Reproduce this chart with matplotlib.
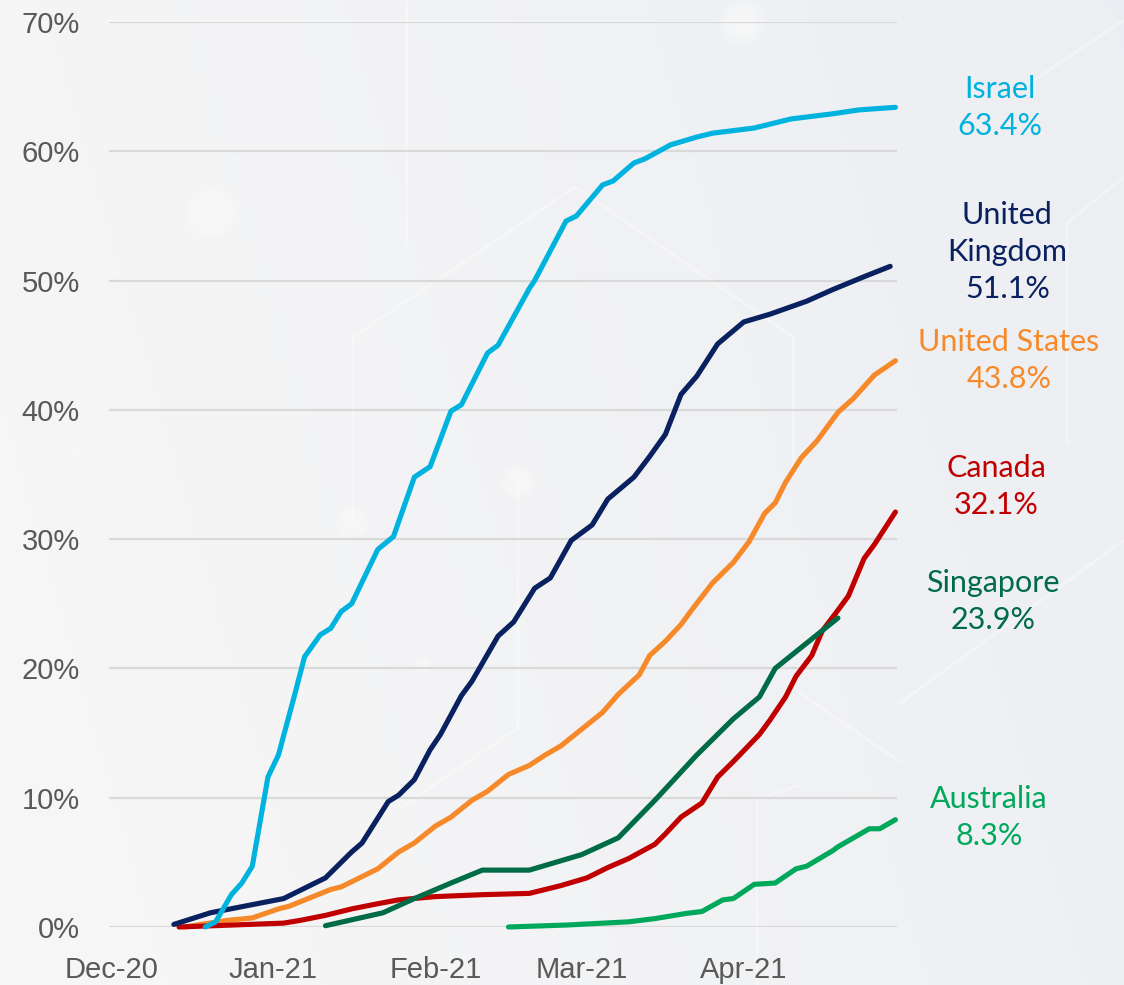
import matplotlib
matplotlib.use("Agg")
import matplotlib.pyplot as plt
import matplotlib.dates as mdates
import matplotlib.transforms as mtransforms
from matplotlib.ticker import FuncFormatter
import numpy as np
import pandas as pd

W, H, DPI = 1124, 985, 100

# ---- share of population with at least one dose (%) ----
israel_dates = ["2020-12-19", "2020-12-21", "2020-12-24", "2020-12-26", "2020-12-28",
                "2020-12-31", "2021-01-02", "2021-01-05", "2021-01-07", "2021-01-10",
                "2021-01-12", "2021-01-14", "2021-01-16", "2021-01-21", "2021-01-24",
                "2021-01-28", "2021-01-31", "2021-02-04", "2021-02-06", "2021-02-11",
                "2021-02-13", "2021-02-19", "2021-02-20", "2021-02-26", "2021-02-28",
                "2021-03-05", "2021-03-07", "2021-03-11", "2021-03-13", "2021-03-18",
                "2021-03-23", "2021-03-26", "2021-04-03", "2021-04-10", "2021-04-18",
                "2021-04-23", "2021-04-30"]
israel_pct = [0.0, 0.4, 2.5, 3.4, 4.7,
              11.6, 13.3, 17.8, 20.9, 22.6,
              23.1, 24.4, 25.0, 29.2, 30.2,
              34.8, 35.6, 39.9, 40.4, 44.4,
              45.0, 49.4, 50.0, 54.6, 55.0,
              57.4, 57.7, 59.1, 59.4, 60.5,
              61.1, 61.4, 61.8, 62.5, 62.9,
              63.2, 63.4]

uk_dates = ["2020-12-13", "2020-12-20", "2021-01-03", "2021-01-11", "2021-01-16",
            "2021-01-18", "2021-01-23", "2021-01-25", "2021-01-28", "2021-01-31",
            "2021-02-02", "2021-02-06", "2021-02-08", "2021-02-13", "2021-02-16",
            "2021-02-20", "2021-02-23", "2021-02-27", "2021-03-03", "2021-03-06",
            "2021-03-11", "2021-03-14", "2021-03-17", "2021-03-20", "2021-03-23",
            "2021-03-27", "2021-04-01", "2021-04-06", "2021-04-13", "2021-04-18",
            "2021-04-24", "2021-04-29"]
uk_pct = [0.2, 1.1, 2.2, 3.8, 5.8,
          6.5, 9.7, 10.2, 11.4, 13.7,
          14.9, 17.9, 19.0, 22.5, 23.6,
          26.2, 27.0, 29.9, 31.1, 33.1,
          34.8, 36.4, 38.1, 41.2, 42.6,
          45.1, 46.8, 47.4, 48.4, 49.3,
          50.3, 51.1]

us_dates = ["2020-12-15", "2020-12-23", "2020-12-28", "2021-01-02", "2021-01-04",
            "2021-01-12", "2021-01-14", "2021-01-21", "2021-01-25", "2021-01-28",
            "2021-02-01", "2021-02-04", "2021-02-08", "2021-02-11", "2021-02-15",
            "2021-02-19", "2021-02-22", "2021-02-25", "2021-03-01", "2021-03-05",
            "2021-03-08", "2021-03-12", "2021-03-14", "2021-03-17", "2021-03-20",
            "2021-03-22", "2021-03-26", "2021-03-30", "2021-04-02", "2021-04-05",
            "2021-04-07", "2021-04-09", "2021-04-12", "2021-04-15", "2021-04-19",
            "2021-04-22", "2021-04-26", "2021-04-30"]
us_pct = [0.0, 0.5, 0.7, 1.4, 1.6,
          2.9, 3.1, 4.5, 5.8, 6.5,
          7.8, 8.5, 9.8, 10.5, 11.8,
          12.5, 13.3, 14.0, 15.3, 16.6,
          18.0, 19.5, 21.0, 22.1, 23.4,
          24.5, 26.6, 28.2, 29.8, 32.0,
          32.8, 34.4, 36.3, 37.6, 39.8,
          40.9, 42.7, 43.8]

canada_dates = ["2020-12-14", "2020-12-24", "2021-01-03", "2021-01-06", "2021-01-11",
                "2021-01-16", "2021-01-21", "2021-01-25", "2021-02-01", "2021-02-10",
                "2021-02-19", "2021-02-25", "2021-03-02", "2021-03-06", "2021-03-10",
                "2021-03-15", "2021-03-17", "2021-03-20", "2021-03-24", "2021-03-27",
                "2021-03-30", "2021-04-04", "2021-04-06", "2021-04-09", "2021-04-11",
                "2021-04-14", "2021-04-16", "2021-04-19", "2021-04-21", "2021-04-24",
                "2021-04-26", "2021-04-30"]
canada_pct = [0.0, 0.15, 0.3, 0.5, 0.9,
              1.4, 1.8, 2.1, 2.35, 2.5,
              2.6, 3.2, 3.8, 4.6, 5.3,
              6.4, 7.2, 8.5, 9.6, 11.6,
              12.8, 14.9, 16.0, 17.8, 19.4,
              21.0, 22.9, 24.5, 25.6, 28.5,
              29.6, 32.1]

singapore_dates = ["2021-01-11", "2021-01-22", "2021-01-28", "2021-02-04", "2021-02-10",
                   "2021-02-19", "2021-03-01", "2021-03-08", "2021-03-15", "2021-03-23",
                   "2021-03-30", "2021-04-04", "2021-04-07", "2021-04-19"]
singapore_pct = [0.1, 1.1, 2.2, 3.4, 4.4,
                 4.4, 5.6, 6.9, 9.8, 13.3,
                 16.1, 17.8, 20.0, 23.9]

australia_dates = ["2021-02-15", "2021-02-26", "2021-03-10", "2021-03-15", "2021-03-21",
                   "2021-03-24", "2021-03-28", "2021-03-30", "2021-04-03", "2021-04-07",
                   "2021-04-11", "2021-04-13", "2021-04-18", "2021-04-19", "2021-04-25",
                   "2021-04-27", "2021-04-30"]
australia_pct = [0.0, 0.15, 0.4, 0.65, 1.05,
                 1.2, 2.1, 2.2, 3.3, 3.4,
                 4.5, 4.7, 5.9, 6.2, 7.6,
                 7.6, 8.3]

countries = ["Israel", "United\nKingdom", "United States", "Canada", "Singapore", "Australia"]
colors = ["#00B2DE", "#0A2160", "#F68A2A", "#C00000", "#006B47", "#00A85C"]
all_dates = [israel_dates, uk_dates, us_dates, canada_dates, singapore_dates, australia_dates]
all_pct = [israel_pct, uk_pct, us_pct, canada_pct, singapore_pct, australia_pct]
draw_order = [2, 3, 4, 5, 1, 0]

# right-hand label placement: x in axes fraction, y in % units
label_x = [1.131, 1.140, 1.142, 1.126, 1.122, 1.117]
label_y = [63.4, 52.2, 43.8, 34.1, 25.2, 8.5]

fig = plt.figure(figsize=(W / DPI, H / DPI), dpi=DPI)

# soft grey background with faint circuit-board lines
bg = fig.add_axes([0, 0, 1, 1], zorder=-10)
bg.set_xlim(0, W)
bg.set_ylim(H, 0)
bg.axis("off")
gx, gy = np.meshgrid(np.linspace(0, 1, 300), np.linspace(0, 1, 300))
t = np.clip(0.8 * gx + 0.2 * (1 - gy), 0, 1)[..., None]
c_left = np.array([0.972, 0.969, 0.969])
c_right = np.array([0.925, 0.933, 0.950])
bg.imshow(c_left + (c_right - c_left) * t, extent=[0, W, H, 0], aspect="auto")

circuit = [
    [(406, 0), (406, 243)],
    [(353, 523), (353, 337), (575, 187), (793, 337), (793, 470)],
    [(518, 483), (518, 728), (400, 808)],
    [(1004, 100), (1124, 20)],
    [(1067, 443), (1067, 223), (1124, 177)],
    [(900, 703), (1124, 540)],
    [(800, 693), (900, 762)],
    [(757, 985), (757, 800), (797, 786)],
]
for pts in circuit:
    xs, ys = zip(*pts)
    bg.plot(xs, ys, color="white", lw=2.0, alpha=0.35, solid_capstyle="round")

dots = [(742, 22, 26), (211, 213, 26), (353, 522, 17), (518, 482, 18),
        (78, 452, 9), (422, 665, 9)]
for cx, cy, r in dots:
    for k in np.linspace(1.0, 0.3, 8):
        bg.add_patch(plt.Circle((cx, cy), r * k, color="white", alpha=0.1, lw=0))

# main chart
ax = fig.add_axes([109 / W, 1 - 927 / H, (897 - 109) / W, (927 - 22) / H])
ax.set_facecolor("none")

for i in draw_order:
    ax.plot(pd.to_datetime(all_dates[i]), all_pct[i], color=colors[i], lw=3.7,
            solid_joinstyle="round", solid_capstyle="round", clip_on=False, zorder=3)

ax.set_ylim(0, 70)
ax.set_yticks(range(0, 71, 10))
ax.yaxis.set_major_formatter(FuncFormatter(lambda v, _: f"{v:.0f}%"))
ax.xaxis.set_major_locator(mdates.MonthLocator())
ax.xaxis.set_major_formatter(mdates.DateFormatter("%b-%y"))
x0 = mdates.date2num(pd.Timestamp("2020-12-01"))
x1 = mdates.date2num(pd.Timestamp("2021-04-30"))
ax.set_xlim(x0 - 0.4, x1 + 0.3)

ax.grid(axis="y", color="#D9D9D9", lw=1.6)
ax.grid(axis="x", visible=False)
ax.set_axisbelow(True)
for s in ax.spines.values():
    s.set_visible(False)
ax.tick_params(length=0, pad=21, labelsize=21, labelcolor="#595959")
for lab in ax.get_xticklabels() + ax.get_yticklabels():
    lab.set_family(["Liberation Sans", "DejaVu Sans"])

trans = mtransforms.blended_transform_factory(ax.transAxes, ax.transData)
for i, name in enumerate(countries):
    ax.text(label_x[i], label_y[i], f"{name}\n{all_pct[i][-1]:.1f}%", transform=trans,
            ha="center", va="center", multialignment="center", fontsize=22,
            color=colors[i], family=["Lato", "DejaVu Sans"], linespacing=1.4,
            clip_on=False)

fig.savefig("out.png", dpi=DPI)
